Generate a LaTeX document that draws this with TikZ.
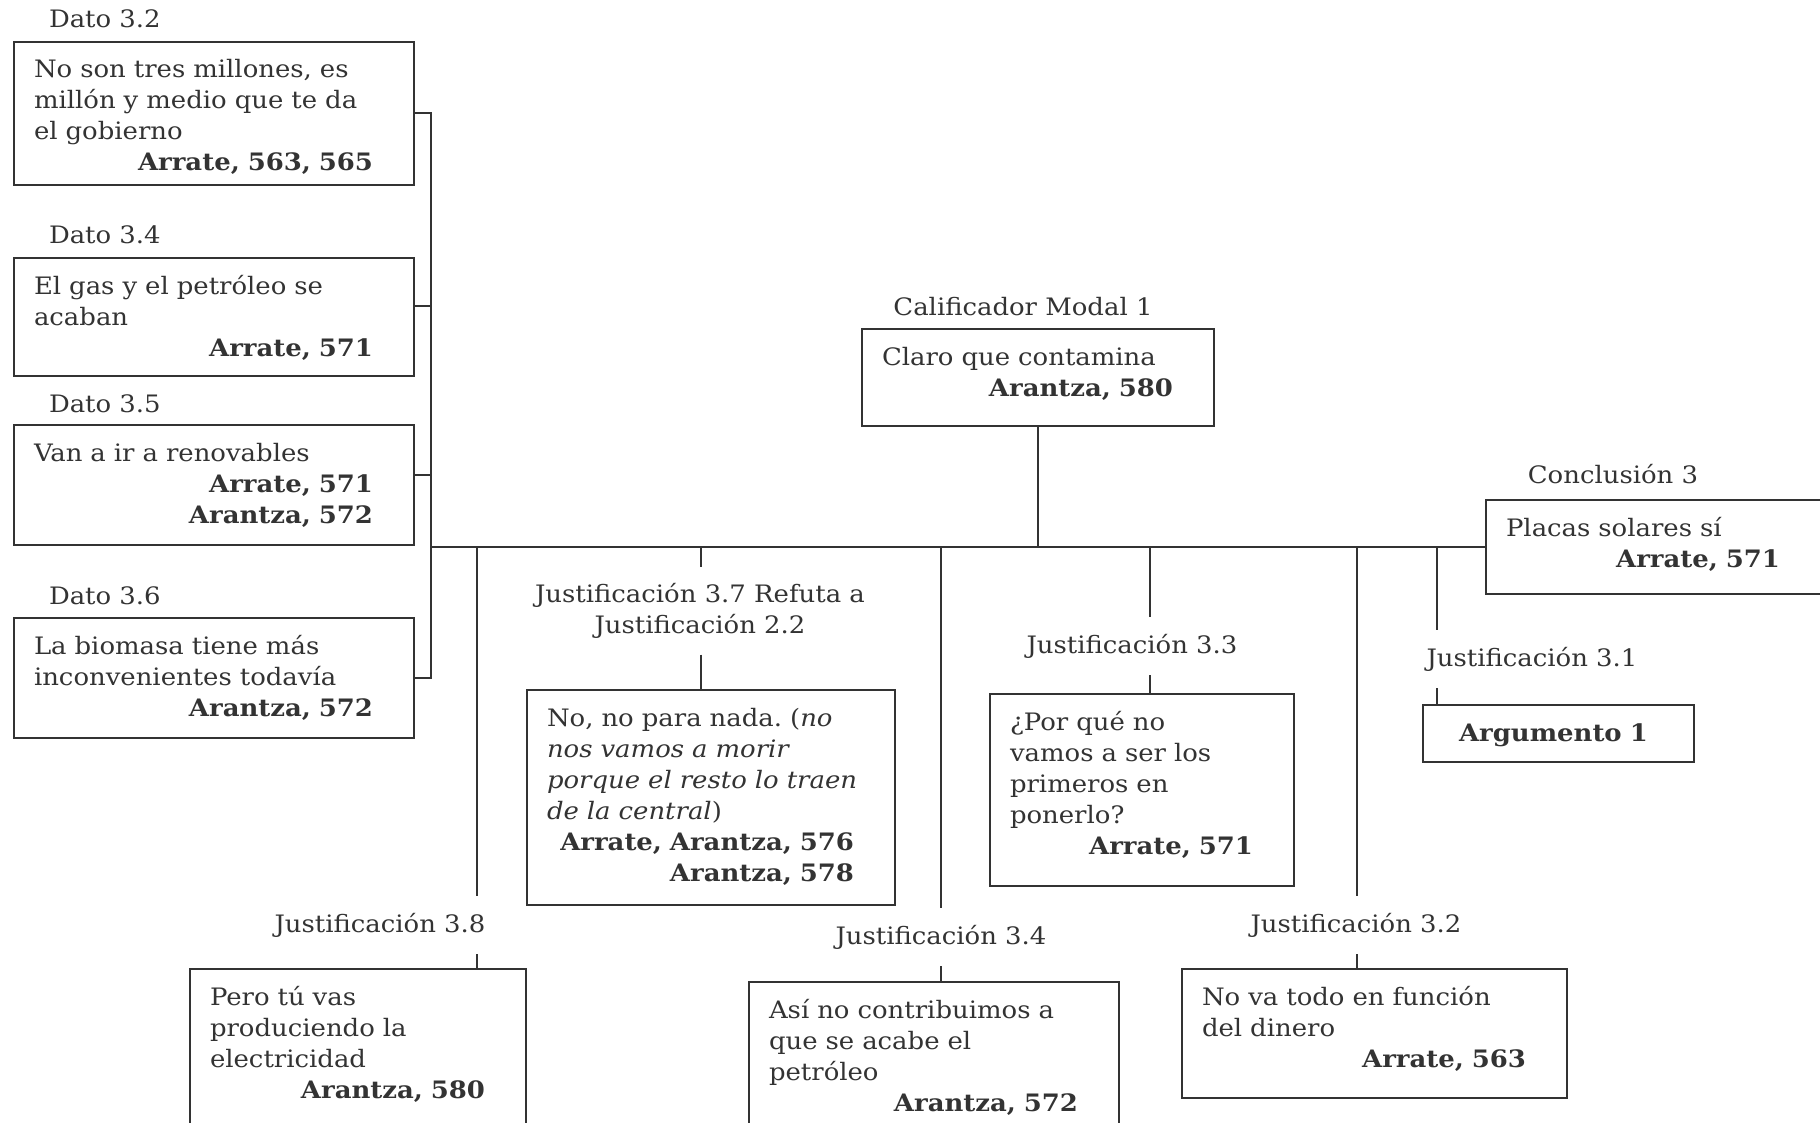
\documentclass[tikz,border=0pt]{standalone}
\usepackage{fontspec}
\setmainfont{DejaVu Serif}[FakeStretch=1.08]
\usetikzlibrary{positioning,calc}
\definecolor{inkColor}{HTML}{333333}
\tikzset{claim box/.style={draw, anchor=north west, align=left, inner xsep=10pt, inner ysep=0pt,
		text height=18pt, text depth=#1}}
\tikzset{claim label/.style={inner xsep=2pt, inner ysep=7.5pt, text height=10pt, text depth=3pt}}
\newcommand{\fuente}[2][10.5pt]{\par\noindent\hspace*{\fill}\mbox{\textbf{#2}}\hspace*{#1}}

\begin{document}
\begin{tikzpicture}[x=0.5pt, y=-0.5pt, color=inkColor, line width=1pt,
					font=\fontsize{12pt}{15.5pt}\selectfont\frenchspacing]
	\useasboundingbox (0,0) rectangle (1820,1123);
	% datos
	\node[claim label, anchor=west] at (44,21) (dl_32) {Dato 3.2};
	\node[claim box=53.5pt, text width=180pt] at (13,41) (d_32) {No son tres millones, es\\millón y medio que te da\\el gobierno\fuente{Arrate, 563, 565}};
	\node[claim label, anchor=west] at (44,237) (dl_34) {Dato 3.4};
	\node[claim box=41pt, text width=180pt] at (13,257) (d_34) {El gas y el petróleo se\\acaban\fuente{Arrate, 571}};
	\node[claim label, anchor=west] at (44,405) (dl_35) {Dato 3.5};
	\node[claim box=42pt, text width=180pt] at (13,424) (d_35) {Van a ir a renovables\fuente{Arrate, 571}\fuente{Arantza, 572}};
	\node[claim label, anchor=west] at (44,597) (dl_36) {Dato 3.6};
	\node[claim box=42pt, text width=180pt] at (13,617) (d_36) {La biomasa tiene más\\inconvenientes todavía\fuente{Arantza, 572}};
	% calificador y conclusion
	\node[claim label] at (1023,308) (ml_1) {Calificador Modal 1};
	\node[claim box=30.5pt, text width=156pt] at (861,328) (m_1) {Claro que contamina\fuente{Arantza, 580}};
	\node[claim label] at (1613,476) (cl_3) {Conclusión 3};
	\node[claim box=29pt, text width=157.5pt] at (1485,499) (c_3) {Placas solares sí\fuente[20.5pt]{Arrate, 571}};
	% justificaciones
	\node[align=center, inner ysep=7.5pt] at (700,611) (l_37) {Justificación 3.7 Refuta a\\Justificación 2.2};
	\node[claim box=89.5pt, text width=164pt] at (526,689) (j_37) {No, no para nada. (\textit{no}\\\textit{nos vamos a morir}\\\textit{porque el resto lo traen}\\\textit{de la central})\fuente{Arrate, Arantza, 576}\fuente{Arantza, 578}};
	\node[claim label] at (1132,646) (l_33) {Justificación 3.3};
	\node[claim box=78pt, text width=132pt] at (989,693) (j_33) {¿Por qué no\\vamos a ser los\\primeros en\\ponerlo?\fuente{Arrate, 571}};
	\node[claim label] at (1532,659) (l_31) {Justificación 3.1};
	\node[claim box=10.5pt, text width=115.5pt] at (1422,704) (j_31) {\hspace*{8pt}\textbf{Argumento 1}};
	\node[claim label] at (380,925) (l_38) {Justificación 3.8};
	\node[claim box=75pt, text width=148pt] at (189,968) (j_38) {Pero tú vas\\produciendo la\\electricidad\fuente{Arantza, 580}};
	\node[claim label] at (941,937) (l_34) {Justificación 3.4};
	\node[claim box=75pt, text width=165pt] at (748,981) (j_34) {Así no contribuimos a\\que se acabe el\\petróleo\fuente{Arantza, 572}};
	\node[claim label] at (1356,925) (l_32) {Justificación 3.2};
	\node[claim box=46.5pt, text width=172.5pt] at (1181,968) (j_32) {No va todo en función\\del dinero\fuente{Arrate, 563}};
	% llave de los datos y linea principal
	\draw (d_32.east) -- ++(16,0) coordinate (b_top) -- (b_top |- d_36.east) -- (d_36.east);
	\draw ($(d_34.east)+(0,-11)$) -- ++(16,0);
	\draw ($(d_35.east)+(0,-10)$) -- ++(16,0);
	\draw (b_top |- c_3.west) -- (c_3.west);
	\path (m_1.south) edge (m_1.south |- c_3.west);
	\foreach \x/\n in {477/38, 701/37, 941/34, 1150/33, 1357/32, 1437/31}
		\coordinate (s_\n) at (\x,0 |- c_3.west);
	\foreach \n in {38,37,34,33,32,31}
		\draw (s_\n) -- (s_\n |- l_\n.north) (s_\n |- l_\n.south) -- (s_\n |- j_\n.north);
\end{tikzpicture}
\end{document}
